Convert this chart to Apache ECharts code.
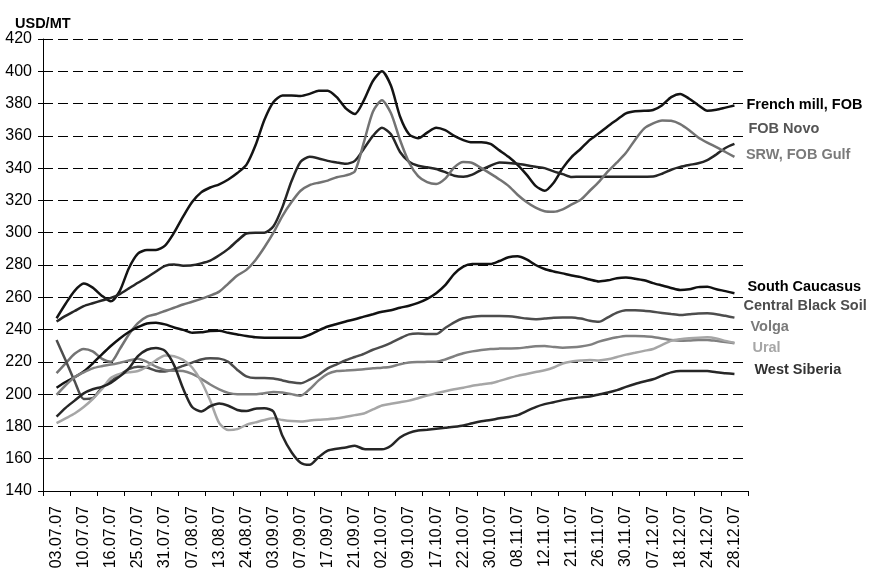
<!DOCTYPE html>
<html>
<head>
<meta charset="utf-8">
<script src="https://cdn.jsdelivr.net/npm/echarts@6/dist/echarts.min.js"></script>
<style>html,body{margin:0;padding:0;background:#fff}#c{width:873px;height:578px}</style>
</head>
<body>
<div id="c"></div>
<script>
const dateLabels = ['03.07.07','10.07.07','16.07.07','25.07.07','31.07.07','07.08.07','13.08.07','24.08.07','03.09.07','07.09.07','17.09.07','21.09.07','02.10.07','09.10.07','17.10.07','22.10.07','30.10.07','08.11.07','12.11.07','21.11.07','26.11.07','30.11.07','07.12.07','18.12.07','24.12.07','28.12.07'];
const yTicks = {min: 140, max: 420, step: 20};

const frenchMill = [247,256,264,268.5,266,261,257.5,264,278,287,289.3,289.3,292,300,310,319,325,328,330,333,337,342,354,370,381,385,385,384.7,386,388,388,384,377,373.5,382,394,400,391,372,361,358.5,362,365,363.5,360,357.4,356,356,355,351,347,342,336,329,326,331,340,347,352,357.5,361.6,366,370,374,375.3,375.5,376,379,384,386,383,379,375.6,376.2,377.5,378.8];
const fobNovo = [245,248.5,251.5,254.5,256.3,258,259.6,262,265.5,269,272.3,276,279.5,280.3,279.6,279.8,281,282.7,286,290,295,299.5,300,300,304,316,332,344,347,346,344.5,343.5,342.7,344.5,352,360,365,361,350,344,341.5,340.5,339.5,337.5,335.3,334.7,336,339,341.5,343.5,343.2,342.7,341.8,340.8,340,338,336.3,334.5,334.7,334.7,334.7,334.7,334.7,334.7,334.7,334.7,334.8,336.5,339,340.8,342,343,345,348.5,352.5,355];
const srwGulf = [213,219,225,228,226.5,222,220,228,237,244,248,249.5,251.5,253.5,255.5,257.2,259,261,263.5,268.5,273.5,277,283,291,300,310.5,319,326,329.5,331,332.3,334.4,335.5,338,356,375,382,374,357.4,343.5,335,331.3,330.2,333.5,340.5,343.8,343.2,340,336.6,333,329,323.5,319,315.5,313.3,313,314.5,317.5,320.5,326,331.5,338,343.5,349.5,357.5,364.5,367.7,369.5,369.3,367.3,363.5,359,355.8,353,350,347];
const southCaucasus = [204,207.5,210.5,214,219,224.5,229.8,234.5,238.5,241.5,243.8,244.3,243.2,241.3,239.8,238,238.3,239.1,239.2,238,237,236,235.2,235,235,235,235,235,236.8,239.5,241.9,243.5,245,246.4,248,249.5,251,252,253.5,254.8,256.5,259,262.5,267.5,274.5,279,280.6,280.6,280.6,282.5,284.8,285.4,283.5,280,277.5,276,274.8,273.5,272.5,271,269.8,270.5,271.8,272.2,271.5,270.5,268.8,267.3,265.8,264.5,265,266.3,266.5,265,263.8,262.5];
const centralBlackSoil = [233.5,221,208,197,197.5,204,208,212,215.5,217,216.5,214.5,214,215.5,217.5,219.5,221.5,222.2,222,220,215,211,210,210,209.7,208.5,207.3,206.7,209,212,216,218.5,221,223,225,227.5,229.4,231.8,234.5,237,237.5,237.2,237.2,241,244.5,247,248,248.4,248.4,248.4,248.2,247.6,246.8,246.4,246.8,247.3,247.5,247.5,246.8,245.5,244.8,247.6,250.5,252,251.9,251.6,251,250.3,249.6,249,249.5,250,250.1,249.5,248.5,247.4];
const volga = [199.5,205.5,210.5,213.5,216,217.3,218.3,219.5,220.8,222,220,217,215,214.5,214.3,212.5,209.5,206,203,200.8,199.9,199.9,199.9,200.5,201.3,201,200,199,203,208.5,212.5,214.3,214.6,215,215.4,216,216.4,217,218.5,219.6,219.9,220,220.1,221.5,223.5,225.3,226.5,227.4,228,228.2,228.3,228.4,229,229.6,229.8,229.2,228.8,229,229.5,230.5,232.5,234,235.2,236,236,235.8,235.4,234.5,233.5,233,233.2,233.5,233.6,233,232.3,231.5];
const ural = [182,185,188,192,197,203,210,212.5,213.5,214.3,217,221,224,223.5,221.2,216.5,208,196,182,177.8,178.3,181,182.5,184,185,184,183.3,183,183.7,184.2,184.5,185,186,187,188,190.5,193,194,195,196,197.5,199.2,200.5,201.8,203,204,205.2,206,206.7,208.2,209.8,211.3,212.5,213.7,214.8,216.5,219,220.2,220.8,221.2,220.9,221.6,223,224.5,225.6,226.8,228,230.5,233,234,234.6,235,235.2,234.5,233,231.8];
const westSiberia = [186,191.5,196,200.5,203,204.5,207,211,216,223.5,227.5,228.6,226.8,218,203.5,192,189.3,192.5,194.2,192.8,190.2,189.5,191,191.2,189.2,174,164,157.5,156.2,161,165,166.2,167,168,166,165.8,165.8,168,173.2,176,177.5,178,178.6,179.2,179.8,180.6,182,183.2,184,185,185.8,187,189.5,192,193.8,195,196.3,197.3,198,198.6,199.8,201,202.5,204.5,206.3,207.8,209.2,211.5,213.5,214.4,214.4,214.4,214.3,213.5,213,212.5];

const seriesDefs = [
  {name: 'French mill, FOB', data: frenchMill, color: '#141414', label: '#000000', dist: 12, dy: -1},
  {name: 'FOB Novo', data: fobNovo, color: '#262626', label: '#555555', dist: 14, dy: -15},
  {name: 'SRW, FOB Gulf', data: srwGulf, color: '#737373', label: '#7a7a7a', dist: 11.5, dy: -1.5},
  {name: 'South Caucasus', data: southCaucasus, color: '#111111', label: '#000000', dist: 13, dy: -6},
  {name: 'Central Black Soil', data: centralBlackSoil, color: '#4d4d4d', label: '#4d4d4d', dist: 9, dy: -12},
  {name: 'Volga', data: volga, color: '#808080', label: '#7a7a7a', dist: 16, dy: -16},
  {name: 'Ural', data: ural, color: '#a6a6a6', label: '#a6a6a6', dist: 18, dy: 5},
  {name: 'West Siberia', data: westSiberia, color: '#262626', label: '#333333', dist: 20, dy: -4}
];

const categories = [];
dateLabels.forEach(d => { categories.push(d + ' ', d, d + '  '); });

const FONT = 'Liberation Sans, Arial, sans-serif';

const chart = echarts.init(document.getElementById('c'), null, {renderer: 'canvas'});
chart.setOption({
  animation: false,
  backgroundColor: '#ffffff',
  title: {
    text: 'USD/MT', left: 10, top: 11,
    textStyle: {fontFamily: FONT, fontSize: 14.5, fontWeight: 'bold', color: '#000'}
  },
  grid: {left: 43, right: 125, top: 39, bottom: 87, containLabel: false},
  xAxis: {
    type: 'category',
    data: categories,
    boundaryGap: true,
    axisLine: {show: true, lineStyle: {color: '#000', width: 1}},
    axisTick: {show: true, length: 5, interval: (i) => i % 3 === 0, lineStyle: {color: '#000'}},
    axisLabel: {
      interval: (i) => i % 3 === 1,
      rotate: 90, margin: 15,
      fontFamily: FONT, fontSize: 16, color: '#000'
    },
    splitLine: {show: false}
  },
  yAxis: {
    type: 'value',
    min: yTicks.min, max: yTicks.max, interval: yTicks.step,
    axisLine: {show: true, lineStyle: {color: '#000', width: 1}},
    axisTick: {show: true, length: 5, lineStyle: {color: '#000'}},
    axisLabel: {margin: 11, fontFamily: FONT, fontSize: 16, color: '#000'},
    splitLine: {show: true, lineStyle: {color: '#000', width: 1, type: [10, 5]}}
  },
  series: seriesDefs.map(s => ({
    name: s.name,
    type: 'line',
    data: [null].concat(s.data, [null]),
    smooth: 0.25,
    showSymbol: false,
    symbol: 'none',
    lineStyle: {color: s.color, width: 2.5},
    itemStyle: {color: s.color},
    endLabel: {
      show: true,
      formatter: s.name,
      distance: s.dist,
      offset: [0, s.dy],
      color: s.label,
      fontFamily: FONT,
      fontSize: 14.5,
      fontWeight: 'bold'
    }
  }))
});
</script>
</body>
</html>
